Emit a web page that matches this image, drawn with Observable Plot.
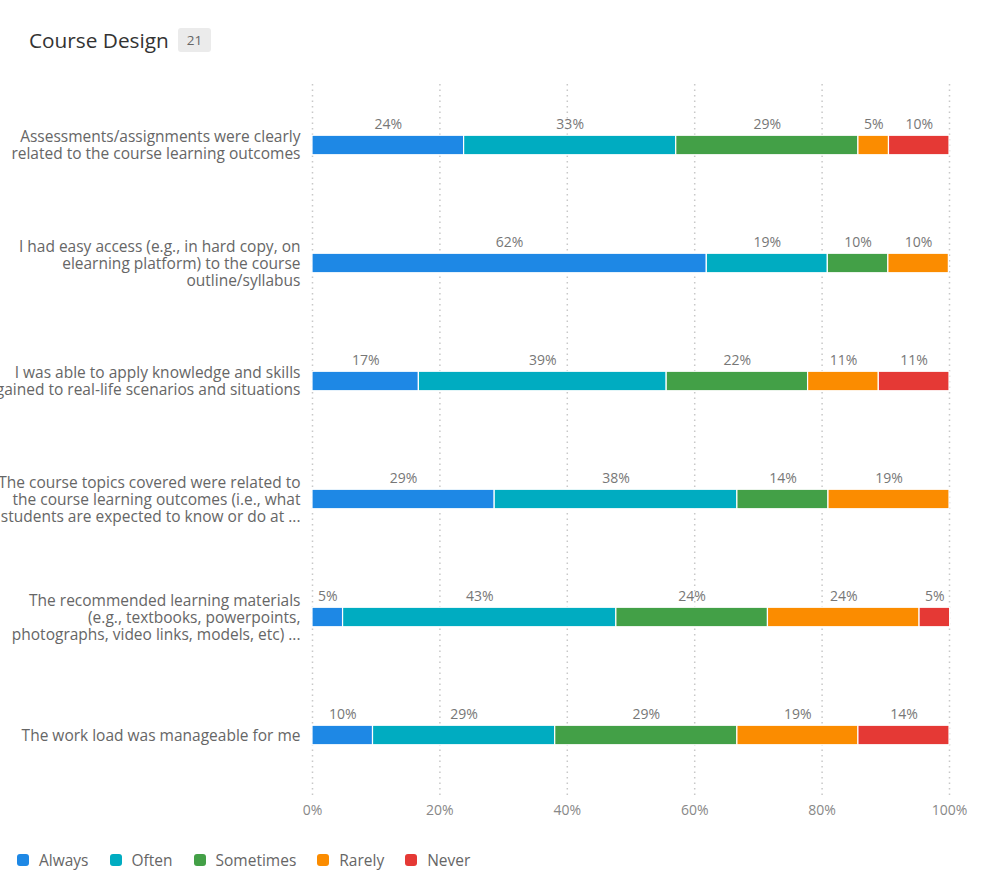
<!DOCTYPE html>
<html>
<head>
<meta charset="utf-8">
<script src="https://cdn.jsdelivr.net/npm/d3@7"></script>
<script src="https://cdn.jsdelivr.net/npm/@observablehq/plot@0.6"></script>
<style>
  html, body { margin: 0; padding: 0; background: #fff; }
  body { width: 981px; height: 888px; position: relative; font-family: "Open Sans", sans-serif; overflow: hidden; }
  #title { position: absolute; left: 29px; top: 26px; font-size: 20.8px; color: #333; display: flex; align-items: center; }
  #title .badge { margin-left: 9px; background: #ebebeb; color: #666; font-size: 13.5px; padding: 3px 9px; border-radius: 3px; }
  #chart { position: absolute; left: 0; top: 70px; }
  #legend { position: absolute; left: 17px; top: 849px; display: flex; font-size: 15.5px; color: #666; }
  #legend .item { display: flex; align-items: center; margin-right: 21px; }
  #legend .sw { width: 12px; height: 12px; border-radius: 3px; margin-right: 10px; }
</style>
</head>
<body>
<div id="title">Course Design<span class="badge">21</span></div>
<div id="chart"></div>
<div id="legend"></div>
<script>
const questions = [
  "Assessments/assignments were clearly\nrelated to the course learning outcomes",
  "I had easy access (e.g., in hard copy, on\nelearning platform) to the course\noutline/syllabus",
  "I was able to apply knowledge and skills\ngained to real-life scenarios and situations",
  "The course topics covered were related to\nthe course learning outcomes (i.e., what\nstudents are expected to know or do at ...",
  "The recommended learning materials\n(e.g., textbooks, powerpoints,\nphotographs, video links, models, etc) ...",
  "The work load was manageable for me"
];
const responses = ["Always", "Often", "Sometimes", "Rarely", "Never"];
const colors = ["#1E88E5", "#00ACC1", "#43A047", "#FB8C00", "#E53935"];
// percentages per response, one value per question
const always    = [23.8, 61.9, 16.7, 28.6,  4.8,  9.5];
const often     = [33.3, 19.0, 38.9, 38.1, 42.9, 28.6];
const sometimes = [28.6,  9.5, 22.2, 14.3, 23.8, 28.6];
const rarely    = [ 4.8,  9.5, 11.1, 19.0, 23.8, 19.0];
const never     = [ 9.5,  0.0, 11.1,  0.0,  4.8, 14.3];
const xTicks = [0, 20, 40, 60, 80, 100];

const series = [always, often, sometimes, rarely, never];
const data = [];
questions.forEach((q, i) => {
  responses.forEach((r, j) => {
    const v = series[j][i];
    if (v > 0) data.push({question: q, response: r, value: v});
  });
});

const font = "Open Sans, sans-serif";
const chart = Plot.plot({
  width: 981,
  height: 755,
  marginLeft: 312,
  marginRight: 32,
  marginTop: 14,
  marginBottom: 30,
  style: {fontFamily: font, fontSize: "14px", color: "#666", background: "white"},
  x: {domain: [0, 100]},
  y: {domain: questions, padding: 0},
  color: {domain: responses, range: colors},
  marks: [
    Plot.gridX(xTicks, {stroke: "#c8c8c8", strokeOpacity: 1, strokeWidth: 1.5, strokeDasharray: "1.5,4"}),
    Plot.axisX(xTicks, {tickSize: 0, tickPadding: 10, tickFormat: d => d + "%", fill: "#888", fontSize: 14, label: null}),
    Plot.axisY({tickSize: 0, tickPadding: 12, fill: "#666", fontSize: 15.5, lineHeight: 1.1, label: null, textOverflow: null}),
    Plot.barX(data, Plot.stackX({
      x: "value", y: "question", fill: "response", order: responses,
      insetTop: 49.25, insetBottom: 49.25, stroke: "white", strokeWidth: 1.2
    })),
    Plot.text(data, Plot.stackX({
      x: "value", y: "question", z: "response", order: responses,
      text: d => Math.round(d.value) + "%", dy: -21, fill: "#777", fontSize: 14
    }))
  ]
});
document.getElementById("chart").appendChild(chart);

const legend = document.getElementById("legend");
responses.forEach((r, i) => {
  const item = document.createElement("div");
  item.className = "item";
  const sw = document.createElement("span");
  sw.className = "sw";
  sw.style.background = colors[i];
  item.appendChild(sw);
  item.appendChild(document.createTextNode(r));
  legend.appendChild(item);
});
</script>
</body>
</html>
